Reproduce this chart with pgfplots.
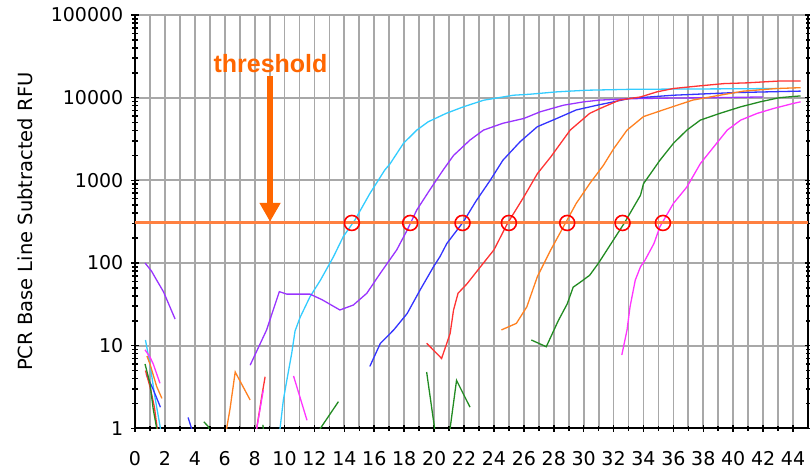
\documentclass[border=0pt]{standalone}
\usepackage{fontspec}
\setmainfont{DejaVu Sans}
\newfontfamily\thrfont{Liberation Sans}
\usepackage{pgfplots}
\pgfplotsset{compat=1.18}
\usetikzlibrary{arrows.meta}
\definecolor{cyanc}{RGB}{51,204,255}
\definecolor{purplec}{RGB}{153,51,255}
\definecolor{bluec}{RGB}{51,51,255}
\definecolor{redc}{RGB}{255,51,51}
\definecolor{orangec}{RGB}{255,128,32}
\definecolor{greenc}{RGB}{34,139,34}
\definecolor{magc}{RGB}{255,51,255}
\definecolor{thrline}{RGB}{255,128,64}
\definecolor{thrtext}{RGB}{255,102,0}
\definecolor{gridc}{RGB}{168,168,168}
\begin{document}
\begin{tikzpicture}
\useasboundingbox (-135pt,-44.7pt) rectangle (675pt,428.3pt);
\begin{axis}[
  at={(0,0)}, anchor=south west,
  width=673pt, height=413.3pt, scale only axis,
  xmin=0, xmax=45, ymin=1, ymax=100000, ymode=log,
  axis x line*=bottom, axis y line*=box,
  axis line style={line width=1.8pt, black},
  xtick={0,2,...,44}, minor x tick num=1,
  ytick={1,10,100,1000,10000,100000},
  minor ytick={2,3,4,5,6,7,8,9,20,30,40,50,60,70,80,90,200,300,400,500,600,700,800,900,2000,3000,4000,5000,6000,7000,8000,9000,20000,30000,40000,50000,60000,70000,80000,90000},
  log ticks with fixed point,
  /pgf/number format/1000 sep={},
  /pgf/number format/assume math mode=true,
  tick align=center,
  major tick length=7pt, minor tick length=5pt,
  every tick/.style={black, line width=1.6pt},
  xmajorgrids, xminorgrids, ymajorgrids, yminorgrids=false,
  grid style={gridc, line width=1.8pt},
  minor grid style={gridc, line width=1.8pt},
  ticklabel style={font=\fontsize{19}{22}\selectfont},
  xticklabel style={inner sep=0pt, anchor=base, yshift=-34pt},
  yticklabel style={inner sep=0pt, anchor=east, xshift=-8pt},
  ylabel={PCR Base Line Subtracted RFU},
  ylabel style={font=\fontsize{19.5}{22}\selectfont, at={(axis description cs:-0.1634,0.5)}, anchor=center, rotate=0},
  unbounded coords=jump,
  every axis plot/.append style={line width=1.3pt},
]
% cyan
\addplot[cyanc] coordinates {(0.7,11.7)(1,6)(1.33,2.4)(1.7,1)(1.9,0.5)(1.95,nan)
(9.6,0.5)(9.7,1)(9.92,2.2)(10.15,3.8)(10.48,8.1)(10.7,15)(11.04,22)(11.7,39)(12.4,62)(13.26,118)(13.93,209)(14.7,330)(15.7,690)(16.7,1330)(17.06,1590)(17.95,2800)(18.84,4050)(19.6,5100)(20.8,6450)(21.96,7750)(23.3,9300)(25.3,10700)(26.4,11000)(28.2,11750)(30.2,12300)(33,12600)(36,12700)(40,12800)(43,12900)};
% purple
\addplot[purplec] coordinates {(0.67,100)(1.1,80)(1.45,62)(1.9,45)(2.68,21)(2.7,nan)
(7.7,5.8)(8.8,15.5)(9.65,45)(10.15,42)(11.7,42)(12.5,36)(13.7,27)(14.6,31)(15.5,43)(16.4,75)(17.5,144)(18.2,250)(18.84,437)(19.7,760)(20.6,1330)(21.3,2000)(22.4,3070)(23.3,4050)(24.6,4900)(26.0,5600)(27.1,6750)(28.65,8100)(30.0,8900)(31.1,9350)(33,9700)(36,9900)(39,10000)(42,10200)};
% blue
\addplot[bluec] coordinates {(0.75,4.5)(1.2,3)(1.7,1.8)(1.75,nan)
(3.55,1.35)(3.95,0.8)(4.0,nan)
(15.7,5.6)(16.4,10.6)(17.3,15.5)(18.2,24.5)(19.06,47)(19.96,90)(20.4,120)(20.85,172)(21.96,316)(22.8,560)(23.75,1000)(24.6,1750)(25.75,2930)(26.9,4450)(28.2,5600)(29.5,7100)(30.9,8100)(33.1,9800)(36,10700)(40,11500)(44.5,12000)};
% red
\addplot[redc] coordinates {(0.7,5)(1.0,3.2)(1.3,1.8)(1.55,0.8)(1.6,nan)
(8.0,0.7)(8.14,1)(8.47,2.4)(8.7,4.2)(8.75,nan)
(19.5,10.7)(20.5,7)(21.07,14)(21.3,27)(21.6,43)(22.2,56)(23.1,90)(24.0,144)(24.9,300)(26.0,630)(26.9,1200)(27.8,1920)(29.1,4050)(30.4,6450)(31.1,7400)(32.4,9350)(33.8,10200)(34.9,11750)(36,12900)(37.6,13800)(39.4,14800)(40.9,15100)(43.1,15900)(44.5,15900)};
% orange
\addplot[orangec] coordinates {(0.8,7.5)(1.0,6)(1.45,3.2)(1.8,2.3)(1.85,nan)
(6.0,0.7)(6.13,1)(6.35,1.7)(6.7,4.8)(7.7,2.2)(7.75,nan)
(24.5,15.5)(25.5,18.6)(26.2,29.5)(26.9,68)(27.8,144)(28.65,275)(29.5,525)(30.4,910)(31.3,1500)(32.0,2400)(32.9,4050)(34.0,5900)(35.6,7400)(37.3,9350)(39.1,10700)(40.7,12000)(42.9,12900)(44.5,13200)};
% green
\addplot[greenc] coordinates {(0.67,6)(1.0,3.5)(1.22,1.7)(1.45,1)(1.6,0.6)(1.65,nan)
(4.6,1.2)(4.9,1.05)(5.1,0.8)(5.15,nan)
(8.55,1.1)(8.65,0.8)(8.7,nan)
(12.2,0.8)(12.4,1)(13.6,2.1)(13.65,nan)
(19.5,4.8)(20.0,1.1)(20.1,0.8)(20.15,nan)
(20.9,0.7)(21.07,1)(21.5,3.8)(22.4,1.8)(22.45,nan)
(26.5,11.7)(27.5,9.7)(28.3,20)(28.9,32)(29.3,51)(29.8,59)(30.4,71)(31.0,100)(31.8,168)(32.7,300)(33.8,660)(34.0,910)(35.1,1750)(36,2800)(36.9,4050)(37.8,5350)(39.1,6450)(40.5,7750)(41.8,8900)(43.1,10000)(44.5,10500)};
% magenta
\addplot[magc] coordinates {(0.67,8.9)(1.0,7.3)(1.22,6)(1.67,3.5)(1.7,nan)
(8.0,0.7)(8.14,1)(8.36,1.7)(8.58,2.9)(8.6,nan)
(10.6,4.3)(11.5,1.25)(11.55,nan)
(32.55,7.7)(32.9,15.5)(33.1,29.5)(33.45,62)(33.8,90)(34.1,108)(34.7,172)(35.1,275)(36,525)(36.9,830)(37.8,1590)(38.7,2540)(39.6,4050)(40.5,5350)(41.6,6450)(42.7,7400)(44.0,8500)(44.5,8900)};
% threshold
\addplot[thrline, line width=3pt] coordinates {(0,305)(45,305)};
% crossing circles
\addplot[only marks, mark=o, mark size=7.5pt, red, mark options={line width=1.6pt}] coordinates {(14.5,305)(18.4,305)(21.9,305)(25.0,305)(28.9,305)(32.6,305)(35.3,305)};
\draw[thrtext, line width=5.3pt, -{Triangle[width=20pt,length=19pt]}] (axis cs:9.03,18200) -- (axis cs:9.03,315);
\node[thrtext, anchor=base, inner sep=0pt, font=\thrfont\bfseries\fontsize{25}{28}\selectfont] at (axis cs:9.06,20000) {threshold};
\end{axis}
\end{tikzpicture}
\end{document}
